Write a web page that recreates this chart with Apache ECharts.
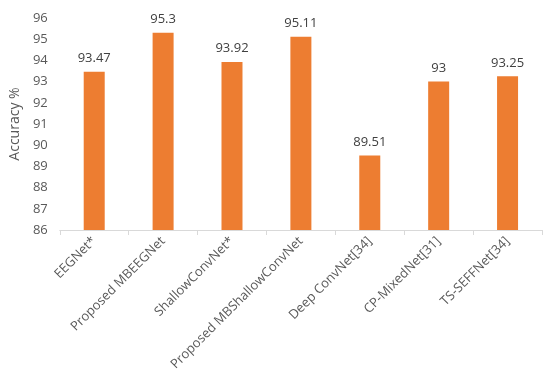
<!DOCTYPE html>
<html><head><meta charset="utf-8">
<script src="https://cdn.jsdelivr.net/npm/echarts@6/dist/echarts.min.js"></script>
<style>html,body{margin:0;padding:0;background:#fff}#c{width:550px;height:377px}</style>
</head><body><div id="c"></div>
<script>
const categories = ["EEGNet*", "Proposed MBEEGNet", "ShallowConvNet*", "Proposed MBShallowConvNet", "Deep ConvNet[34]", "CP-MixedNet[31]", "TS-SEFFNet[34]"];
const accuracy = [93.47, 95.3, 93.92, 95.11, 89.51, 93, 93.25];
const yTicks = {min: 86, max: 96, interval: 1};
const chart = echarts.init(document.getElementById('c'));
chart.setOption({
  animation: false,
  grid: {left: 55, right: 8, top: 18, bottom: 147, containLabel: false},
  xAxis: {
    type: 'category', data: categories,
    axisLine: {lineStyle: {color: '#d9d9d9'}},
    axisTick: {show: true, length: 5, lineStyle: {color: '#d9d9d9'}},
    axisLabel: {rotate: 45, color: '#595959', fontFamily: 'Open Sans', fontSize: 13, interval: 0, margin: 9}
  },
  yAxis: {
    type: 'value', min: yTicks.min, max: yTicks.max, interval: yTicks.interval,
    name: 'Accuracy %', nameLocation: 'middle', nameGap: 28,
    nameTextStyle: {color: '#595959', fontFamily: 'Open Sans', fontSize: 14},
    axisLine: {show: false}, axisTick: {show: false}, splitLine: {show: false},
    axisLabel: {color: '#595959', fontFamily: 'Open Sans', fontSize: 13, margin: 12}
  },
  series: [{
    type: 'bar', data: accuracy, barWidth: 21,
    itemStyle: {color: '#ED7D31'},
    label: {show: true, position: 'top', distance: 7, color: '#404040', fontFamily: 'Open Sans', fontSize: 13}
  }]
});
</script></body></html>
